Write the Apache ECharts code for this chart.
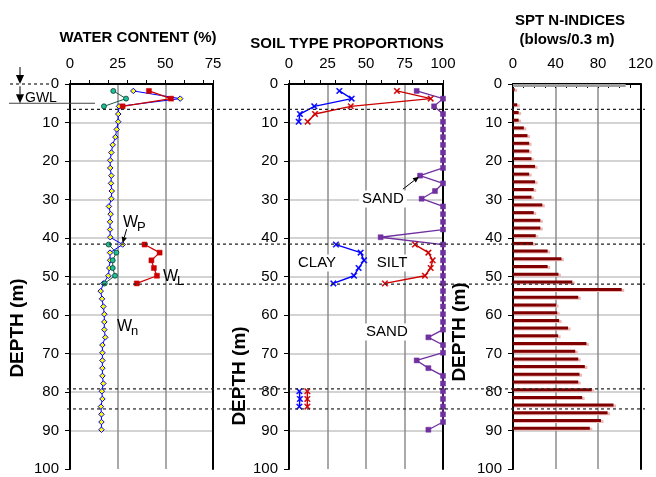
<!DOCTYPE html>
<html>
<head>
<meta charset="utf-8">
<script src="https://cdn.jsdelivr.net/npm/echarts@6/dist/echarts.min.js"></script>
<style>
  html, body { margin: 0; padding: 0; background: #fff; }
  #main { width: 656px; height: 477px; }
</style>
</head>
<body>
<div id="main"></div>
<script>
// depths (m) of the water content / soil type samples
const sampleDepths = [1.8, 3.8, 5.8, 7.8, 9.8, 11.8, 13.8, 15.8, 17.8, 19.8, 21.8, 23.8, 25.8, 27.8, 29.8,
  31.8, 33.8, 35.8, 37.8, 39.8, 41.7, 43.8, 45.8, 47.8, 49.8, 51.8, 53.8, 55.8, 57.8, 59.8,
  61.8, 63.8, 65.8, 67.8, 69.8, 71.8, 73.8, 75.8, 77.8, 79.8, 81.8, 83.8, 85.8, 87.8, 89.8]

// natural water content wn (%)
const wnValues = [33.2, 57.8, 25.7, 25.3, 25.3, 24.5, 23.8, 22.4, 21.7, 21.1, 21.1, 21.7, 21.5, 21.9, 21.7,
  20.4, 21.3, 21.0, 21.0, 21.1, 27.6, 21.0, 21.0, 20.6, 20.1, 17.5, 16.1, 16.8, 17.5, 18.0,
  18.0, 18.0, 18.5, 17.0, 17.0, 17.0, 17.0, 17.0, 17.5, 16.7, 17.0, 16.2, 16.5, 16.5, 16.5]

// plastic limit wp and liquid limit wL (%)
const topDepths = [1.8, 3.8, 5.8]
const midDepths = [41.7, 43.8, 45.8, 47.8, 49.8, 51.8]
const wpTop = [22.7, 29.4, 17.8]
const wpMid = [20.3, 24.3, 22.4, 22.4, 23.6, 18.2]
const wlTop = [41.4, 53.0, 27.6]
const wlMid = [39.1, 47.0, 42.7, 44.0, 45.6, 35.0]

// soil type proportions (%)
const upperDepths = [1.8, 3.8, 5.8, 7.8, 9.8]
const lowerDepths = [79.8, 81.8, 83.8]
const clayUpper = [32.7, 40.7, 16.4, 7.1, 6.3]
const clayMid = [30.5, 46.5, 48.7, 45.2, 42.2, 28.8]
const clayLower = [6.7, 7.1, 6.7]
const siltUpper = [70.1, 92.0, 40.1, 16.9, 12.1]
const siltMid = [81.8, 90.5, 93.3, 92.0, 88.3, 62.3]
const siltLower = [11.9, 11.9, 11.9]
const sandValues = [82.9, 100, 94.2, 100, 100, 100, 100, 100, 100, 100, 100, 85.1, 100, 94.8, 86.1,
  100, 100, 100, 100, 59.5, 100, 100, 100, 100, 100, 100, 100, 100, 100, 100,
  100, 100, 90.5, 100, 100, 82.9, 90.5, 100, 100, 100, 100, 100, 100, 100, 90.5]

// SPT N-indices (blows/0.3 m)
const sptDepths = [1.4, 5.4, 7.4, 9.4, 11.4, 13.4, 15.4, 17.4, 19.4, 21.4, 23.4, 25.4, 27.4, 29.4, 31.4,
  33.4, 35.4, 37.4, 39.4, 41.4, 43.4, 45.4, 47.4, 49.4, 51.4, 53.4, 55.4, 57.4, 59.4, 61.4,
  63.4, 65.4, 67.4, 69.4, 71.4, 73.4, 75.4, 77.4, 79.4, 81.4, 83.4, 85.4, 87.4, 89.4]
const sptValues = [1.5, 4, 5.3, 5.3, 10.2, 13.6, 15.2, 15.2, 17.4, 20.8, 15.2, 20.8, 19.5, 17.4, 27.6,
  19.5, 25.7, 25.7, 21.4, 18.9, 32.6, 45.6, 32.6, 42.8, 55.8, 102.3, 61.4, 40.6, 41.6, 43.4,
  51.8, 42.5, 69.1, 58.6, 61.4, 67.6, 62.6, 61.4, 74.1, 65.1, 94.6, 89, 82.8, 72.3]
const groundLine = [[0, 0.4], [106, 0.4]]

// layer boundaries and groundwater level (m)
const boundaryDepths = [6.6, 41.6, 52.0, 79.2, 84.4]
const gwlDepth = 5.0

// axis ranges
const waterTicks = { max: 75, interval: 25 }
const soilTicks = { max: 100, interval: 25 }
const sptTicks = { max: 120, interval: 40 }

const FONT = 'Liberation Sans, Arial, sans-serif'
const pair = (xs, ys) => xs.map((v, i) => [v, ys[i]])
const crossPath = 'path://M0,1.3L1.3,0L5,3.7L8.7,0L10,1.3L6.3,5L10,8.7L8.7,10L5,6.3L1.3,10L0,8.7L3.7,5Z'

const gridBoxes = [
  { left: 70, top: 84, width: 143, height: 385 },
  { left: 289, top: 84, width: 154, height: 385 },
  { left: 513, top: 84, width: 130, height: 385 }
]

function xAxesFor(gridIndex, ticks, tickInside) {
  return [
    {
      gridIndex, type: 'value', position: 'top', min: 0, max: ticks.max, interval: ticks.interval,
      axisLine: { show: true, lineStyle: { color: '#000', width: 2 } },
      axisTick: { show: false },
      axisLabel: { color: '#000', fontSize: 15, fontFamily: FONT, margin: 13 },
      splitLine: { show: true, showMinLine: false, showMaxLine: false, lineStyle: { color: '#8c8c8c', width: 1.5 } }
    },
    {
      gridIndex, type: 'value', position: 'top', min: 0, max: ticks.max, interval: 10,
      axisLine: { show: false },
      axisTick: { show: true, inside: tickInside, length: 4, lineStyle: { color: '#000', width: 1 } },
      axisLabel: { show: false },
      splitLine: { show: false }
    }
  ]
}

function yAxesFor(gridIndex) {
  return [
    {
      gridIndex, type: 'value', inverse: true, min: 0, max: 100, interval: 10, position: 'left',
      axisLine: { show: true, onZero: false, lineStyle: { color: '#000', width: 2 } },
      axisTick: { show: true, length: 5, lineStyle: { color: '#000', width: 1 } },
      axisLabel: { color: '#000', fontSize: 15, fontFamily: FONT, margin: 11 },
      splitLine: { show: true, showMinLine: false, showMaxLine: false, lineStyle: { color: '#c4c4c4', width: 1.5 } }
    },
    {
      gridIndex, type: 'value', inverse: true, min: 0, max: 100, interval: 10, position: 'right',
      axisLine: { show: true, onZero: false, lineStyle: { color: '#000', width: 2 } },
      axisTick: { show: false },
      axisLabel: { show: false },
      splitLine: { show: false }
    }
  ]
}

function lineSeries(name, data, axis, color, symbol, opts) {
  return Object.assign({
    name, type: 'line', data, xAxisIndex: axis, yAxisIndex: axis,
    symbol, symbolSize: 5, animation: false, z: 3,
    lineStyle: { color, width: 1.2 },
    itemStyle: { color, borderColor: color, borderWidth: 0.5 }
  }, opts || {})
}

const wnStyle = { symbolSize: 5.5, itemStyle: { color: '#ffff00', borderColor: '#0000ff', borderWidth: 1 }, lineStyle: { color: '#0000ff', width: 1 } }
const wpStyle = { symbolSize: 5, itemStyle: { color: '#1fbf9a', borderColor: '#0b3b2c', borderWidth: 0.8 }, lineStyle: { color: '#1d5a3c', width: 1 } }
const crossStyle = { symbolSize: 6, lineStyle: { width: 1.4 } }

const option = {
  backgroundColor: '#fff',
  animation: false,
  grid: gridBoxes,
  xAxis: [].concat(xAxesFor(0, waterTicks, false), xAxesFor(1, soilTicks, false), xAxesFor(2, sptTicks, true)),
  yAxis: [].concat(yAxesFor(0), yAxesFor(1), yAxesFor(2)),
  series: [
    lineSeries('wn', pair(wnValues, sampleDepths), 0, '#0000ff', 'diamond', wnStyle),
    lineSeries('wp', pair(wpTop, topDepths), 0, '#1d5a3c', 'circle', wpStyle),
    lineSeries('wp', pair(wpMid, midDepths), 0, '#1d5a3c', 'circle', wpStyle),
    lineSeries('wL', pair(wlTop, topDepths), 0, '#cc0000', 'rect'),
    lineSeries('wL', pair(wlMid, midDepths), 0, '#cc0000', 'rect'),

    lineSeries('clay', pair(clayUpper, upperDepths), 2, '#0000ff', crossPath, { symbolSize: 6, lineStyle: { color: '#0000ff', width: 1.4 } }),
    lineSeries('clay', pair(clayMid, midDepths), 2, '#0000ff', crossPath, { symbolSize: 6, lineStyle: { color: '#0000ff', width: 1.4 } }),
    lineSeries('clay', pair(clayLower, lowerDepths), 2, '#0000ff', crossPath, { symbolSize: 6, lineStyle: { color: '#0000ff', width: 1.4 } }),
    lineSeries('silt', pair(siltUpper, upperDepths), 2, '#cc0000', crossPath, { symbolSize: 6, lineStyle: { color: '#cc0000', width: 1.4 } }),
    lineSeries('silt', pair(siltMid, midDepths), 2, '#cc0000', crossPath, { symbolSize: 6, lineStyle: { color: '#cc0000', width: 1.4 } }),
    lineSeries('silt', pair(siltLower, lowerDepths), 2, '#cc0000', crossPath, { symbolSize: 6, lineStyle: { color: '#cc0000', width: 1.4 } }),
    lineSeries('sand', pair(sandValues, sampleDepths), 2, '#7030a0', 'rect', { symbolSize: 5, lineStyle: { color: '#7030a0', width: 1.3 } }),

    lineSeries('ground', groundLine, 4, '#a0a0a0', 'none', { lineStyle: { color: '#a0a0a0', width: 3 }, z: 1 }),
    {
      name: 'spt', type: 'custom', xAxisIndex: 4, yAxisIndex: 4,
      data: pair(sptValues, sptDepths),
      encode: { x: 0, y: 1 },
      renderItem(params, api) {
        const start = api.coord([0, api.value(1)])
        const end = api.coord([api.value(0), api.value(1)])
        const h = 3
        const w = end[0] - start[0]
        return {
          type: 'group',
          children: [
            { type: 'rect', shape: { x: start[0] + 1, y: start[1] - h / 2 + 1, width: w + 1.5, height: h }, style: { fill: '#ecb8b8' } },
            { type: 'rect', shape: { x: start[0], y: start[1] - h / 2, width: w, height: h }, style: { fill: '#800000' } }
          ]
        }
      }
    }
  ]
}

const chart = echarts.init(document.getElementById('main'), null, { renderer: 'canvas' })
chart.setOption(option)

// annotations placed through the axes of each panel
const toPx = (panel, point) => chart.convertToPixel({ xAxisIndex: panel * 2, yAxisIndex: panel * 2 }, point)
const textEl = (x, y, text, size, extra) => ({
  type: 'text', x, y, z: 20,
  style: Object.assign({ text, fill: '#000', font: size + 'px ' + FONT, textVerticalAlign: 'middle' }, extra || {})
})
const bold = (x, y, text, size, extra) => textEl(x, y, text, size, Object.assign({ font: 'bold ' + size + 'px ' + FONT }, extra || {}))
const arrowEl = (from, to, size) => {
  const dx = to[0] - from[0], dy = to[1] - from[1]
  const len = Math.sqrt(dx * dx + dy * dy), ux = dx / len, uy = dy / len
  const bx = to[0] - ux * size, by = to[1] - uy * size
  return [
    { type: 'line', z: 20, shape: { x1: from[0], y1: from[1], x2: bx, y2: by }, style: { stroke: '#000', lineWidth: 1 } },
    { type: 'polygon', z: 20, shape: { points: [to, [bx - uy * size * 0.45, by + ux * size * 0.45], [bx + uy * size * 0.45, by - ux * size * 0.45]] }, style: { fill: '#000' } }
  ]
}

const graphics = []
const y0 = toPx(0, [0, 0])[1]
const yGwl = toPx(0, [0, gwlDepth])[1]

// layer boundaries
boundaryDepths.forEach(d => {
  const y = toPx(0, [0, d])[1]
  graphics.push({ type: 'line', z: 15, shape: { x1: 67, y1: y, x2: 645, y2: y }, style: { stroke: '#222', lineWidth: 1.2, lineDash: [3, 3] } })
})

// ground surface and groundwater level
graphics.push({ type: 'line', z: 15, shape: { x1: 10, y1: y0, x2: 50, y2: y0 }, style: { stroke: '#222', lineWidth: 1.2, lineDash: [3, 3] } })
graphics.push({ type: 'line', z: 15, shape: { x1: 9, y1: yGwl, x2: 95, y2: yGwl }, style: { stroke: '#444', lineWidth: 1 } })
graphics.push(...arrowEl([20, y0 - 17], [20, y0], 9))
graphics.push(...arrowEl([20, yGwl - 17], [20, yGwl], 9))
graphics.push(textEl(25, yGwl - 5, 'GWL', 14))

// titles
graphics.push(bold(138, 38, 'WATER CONTENT (%)', 15, { textAlign: 'center' }))
graphics.push(bold(347, 44, 'SOIL TYPE PROPORTIONS', 15, { textAlign: 'center' }))
graphics.push(bold(570, 21, 'SPT N-INDICES', 15, { textAlign: 'center' }))
graphics.push(bold(567, 40, '(blows/0.3 m)', 15, { textAlign: 'center' }))

// depth axis names
const depthName = (x, y) => ({
  type: 'text', x, y, rotation: Math.PI / 2, z: 20,
  style: { text: 'DEPTH (m)', fill: '#000', font: 'bold 19px ' + FONT, textAlign: 'center', textVerticalAlign: 'middle' }
})
graphics.push(depthName(18, 328), depthName(240, 376), depthName(460, 332))

// water content labels
const wLabel = (point, main, sub) => {
  const p = toPx(0, point)
  return [textEl(p[0], p[1], main, 16), textEl(p[0] + 14, p[1] + 5, sub, 13)]
}
graphics.push(...wLabel([27.8, 36.0], 'W', 'P'))
graphics.push(...wLabel([48.8, 49.9], 'W', 'L'))
graphics.push(...wLabel([24.6, 62.9], 'W', 'n'))
graphics.push(...arrowEl(toPx(0, [29.7, 37.7]), toPx(0, [27.6, 41.3]), 6))

// soil type labels
const soilLabel = (point, text) => {
  const p = toPx(1, point)
  return textEl(p[0], p[1], text, 15, { textAlign: 'center', backgroundColor: '#fff', padding: [1, 3] })
}
graphics.push(soilLabel([61, 29.9], 'SAND'), soilLabel([18.2, 46.5], 'CLAY'),
  soilLabel([66.9, 46.5], 'SILT'), soilLabel([63.6, 64.4], 'SAND'))
graphics.push(...arrowEl(toPx(1, [74.0, 27.3]), toPx(1, [84.4, 24.1]), 6))

chart.setOption({ graphic: graphics })
</script>
</body>
</html>
